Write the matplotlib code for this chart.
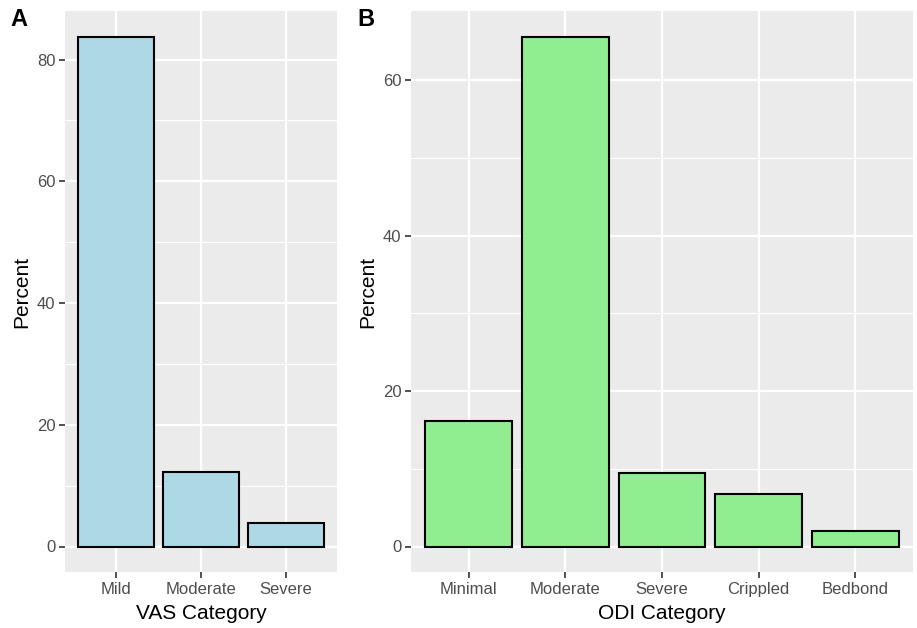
import matplotlib
matplotlib.use("Agg")
import matplotlib.pyplot as plt
from matplotlib.ticker import MultipleLocator

plt.rcParams['font.family'] = ['Liberation Sans', 'DejaVu Sans']

vas_categories = ["Mild", "Moderate", "Severe"]
vas_percent = [83.8, 12.3, 3.8]
odi_categories = ["Minimal", "Moderate", "Severe", "Crippled", "Bedbond"]
odi_percent = [16.2, 65.6, 9.5, 6.7, 1.95]

fig = plt.figure(figsize=(9.17, 6.28), dpi=100)
axA = fig.add_axes([65/917, 56/628, 272/917, 561/628])
axB = fig.add_axes([411/917, 56/628, 502/917, 561/628])

def style(ax, cats, vals, color, xlabel, major, minor):
    ax.set_facecolor("#EBEBEB")
    for s in ax.spines.values():
        s.set_visible(False)
    x = list(range(len(cats)))
    ax.bar(x, vals, width=0.9, color=color, edgecolor="black", linewidth=1.5, zorder=3)
    n = len(cats)
    ax.set_xlim(-0.6, n - 1 + 0.6)
    top = max(vals)
    ax.set_ylim(-0.05 * top, top * 1.05)
    ax.set_xticks(x)
    ax.set_xticklabels(cats)
    ax.yaxis.set_major_locator(MultipleLocator(major))
    ax.yaxis.set_minor_locator(MultipleLocator(minor))
    ax.grid(which="major", color="white", linewidth=1.6, zorder=0)
    ax.grid(which="minor", axis="y", color="white", linewidth=0.8, zorder=0)
    ax.set_axisbelow(True)
    ax.tick_params(axis="both", which="major", length=4, width=1.2, color="#333333",
                   labelcolor="#4D4D4D", labelsize=12, pad=3)
    ax.tick_params(axis="y", which="minor", length=0)
    ax.set_xlabel(xlabel, fontsize=15, color="black", labelpad=5)
    ax.set_ylabel("Percent", fontsize=15, color="black", labelpad=4)

style(axA, vas_categories, vas_percent, "#ADD8E6", "VAS Category", 20, 10)
style(axB, odi_categories, odi_percent, "#90EE90", "ODI Category", 20, 10)

fig.text(10/917, 1 - 20/628, "A", fontsize=17, fontweight="bold", va="center", ha="left")
fig.text(357/917, 1 - 20/628, "B", fontsize=17, fontweight="bold", va="center", ha="left")

fig.savefig("out.png", dpi=100, facecolor="white")
